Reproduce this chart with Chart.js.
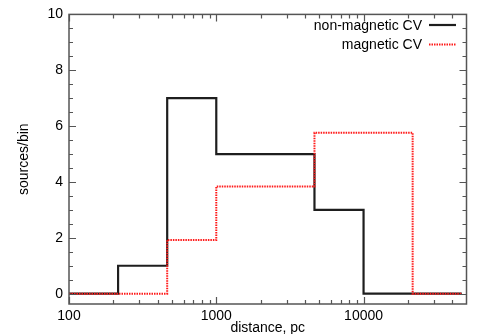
<!DOCTYPE html>
<html>
<head>
<meta charset="utf-8">
<script src="https://cdn.jsdelivr.net/npm/chart.js@4.4.1/dist/chart.umd.min.js"></script>
<style>
  html, body { margin: 0; padding: 0; background: #fff; }
  #wrap { width: 477px; height: 334px; }
</style>
</head>
<body>
<div id="wrap"><canvas id="chart" width="477" height="334"></canvas></div>
<script>
    "use strict";

    // bin edges (1/3 decade), last edge closes the histogram
    const binEdges = [100, 215.4, 464.2, 1000, 2154, 4642, 10000, 21544, 46416];
    const nonMagnetic = [0, 1, 7, 5, 5, 3, 0, 0];
    const magnetic = [0, 0, 1.92, 3.84, 3.84, 5.76, 5.76, 0];

    const xMajorTicks = [100, 1000, 10000];
    const xMinorTicks = [200, 300, 400, 500, 600, 700, 800, 900,
        2000, 3000, 4000, 5000, 6000, 7000, 8000, 9000,
        20000, 30000, 40000];
    const yMajorTicks = [0, 2, 4, 6, 8, 10];
    const yMinorTicks = [0.5, 1, 1.5, 2.5, 3, 3.5, 4.5, 5, 5.5, 6.5, 7, 7.5, 8.5, 9, 9.5];

    const seriesLabels = ['non-magnetic CV', 'magnetic CV'];

    // step points: each edge carries the value of the bin that starts there
    function stepPoints(values) {
        const pts = values.map((v, i) => ({ x: binEdges[i], y: v }));
        pts.push({ x: binEdges[binEdges.length - 1], y: values[values.length - 1] });
        return pts;
    }

    const FONT = 'Liberation Sans, Arial, sans-serif';
    const frameColor = '#555';

    // Frame, inward ticks and the legend
    const framePlugin = {
        id: 'frame',
        afterDraw(chart) {
            const ctx = chart.ctx;
            const a = chart.chartArea;
            const xs = chart.scales.x;
            const ys = chart.scales.y;
            ctx.save();
            ctx.strokeStyle = frameColor;
            ctx.lineWidth = 1.5;
            ctx.strokeRect(a.left, a.top, a.right - a.left, a.bottom - a.top);

            ctx.lineWidth = 1.2;
            ctx.beginPath();
            const xTick = (v, len) => {
                const px = Math.round(xs.getPixelForValue(v)) + 0.5;
                ctx.moveTo(px, a.bottom); ctx.lineTo(px, a.bottom - len);
                ctx.moveTo(px, a.top); ctx.lineTo(px, a.top + len);
            };
            const yTick = (v, len) => {
                const py = Math.round(ys.getPixelForValue(v)) + 0.5;
                ctx.moveTo(a.left, py); ctx.lineTo(a.left + len, py);
                ctx.moveTo(a.right, py); ctx.lineTo(a.right - len, py);
            };
            xMajorTicks.forEach(v => xTick(v, 7));
            xMinorTicks.forEach(v => xTick(v, 4));
            yMajorTicks.forEach(v => yTick(v, 7));
            yMinorTicks.forEach(v => yTick(v, 4));
            ctx.stroke();

            // legend: text right-aligned, line sample to the right
            ctx.font = '14px ' + FONT;
            ctx.textAlign = 'right';
            ctx.textBaseline = 'middle';
            const rows = [25, 44.5];
            chart.data.datasets.forEach((ds, i) => {
                const y = rows[i];
                ctx.fillStyle = '#000';
                ctx.fillText(seriesLabels[i], 422, y + 1);
                ctx.strokeStyle = ds.borderColor;
                ctx.lineWidth = ds.borderWidth;
                ctx.setLineDash(ds.borderDash || []);
                ctx.beginPath();
                ctx.moveTo(429, y);
                ctx.lineTo(456, y);
                ctx.stroke();
            });
            ctx.restore();
        }
    };

    const ctx = document.getElementById('chart').getContext('2d');
    new Chart(ctx, {
        type: 'line',
        data: {
            datasets: [{
                label: seriesLabels[0],
                data: stepPoints(nonMagnetic),
                borderColor: '#1e1e1e',
                borderWidth: 2.2,
                stepped: 'before',
                pointRadius: 0,
                fill: false,
                order: 1,
            }, {
                label: seriesLabels[1],
                data: stepPoints(magnetic),
                borderColor: '#ff1a1a',
                borderWidth: 2,
                borderDash: [1.5, 1],
                stepped: 'before',
                pointRadius: 0,
                fill: false,
                order: 0,
            }]
        },
        options: {
            responsive: false,
            animation: false,
            layout: { padding: { top: 11, right: 10.5, bottom: 0, left: 0 } },
            plugins: {
                legend: { display: false },
                tooltip: { enabled: false },
            },
            scales: {
                x: {
                    type: 'logarithmic',
                    min: 100,
                    max: 50000,
                    afterBuildTicks: s => { s.ticks = xMajorTicks.map(v => ({ value: v })); },
                    afterFit: s => { s.height = 30; },
                    grid: { display: false, drawTicks: false },
                    border: { display: false },
                    ticks: {
                        color: '#000',
                        padding: 4,
                        maxRotation: 0,
                        font: { family: FONT, size: 14 },
                        callback: v => String(v),
                    },
                    title: {
                        display: true,
                        text: 'distance, pc',
                        color: '#000',
                        padding: { top: 0, bottom: -3 },
                        font: { family: FONT, size: 14 },
                    },
                },
                y: {
                    min: -0.37,
                    max: 10,
                    afterBuildTicks: s => { s.ticks = yMajorTicks.map(v => ({ value: v })); },
                    afterFit: s => { s.width = 69; },
                    grid: { display: false, drawTicks: false },
                    border: { display: false },
                    ticks: {
                        color: '#000',
                        padding: 6,
                        font: { family: FONT, size: 14 },
                    },
                    title: {
                        display: true,
                        text: 'sources/bin',
                        color: '#000',
                        padding: { top: 16, bottom: 0 },
                        font: { family: FONT, size: 14 },
                    },
                },
            },
        },
        plugins: [framePlugin],
    });
</script>
</body>
</html>
